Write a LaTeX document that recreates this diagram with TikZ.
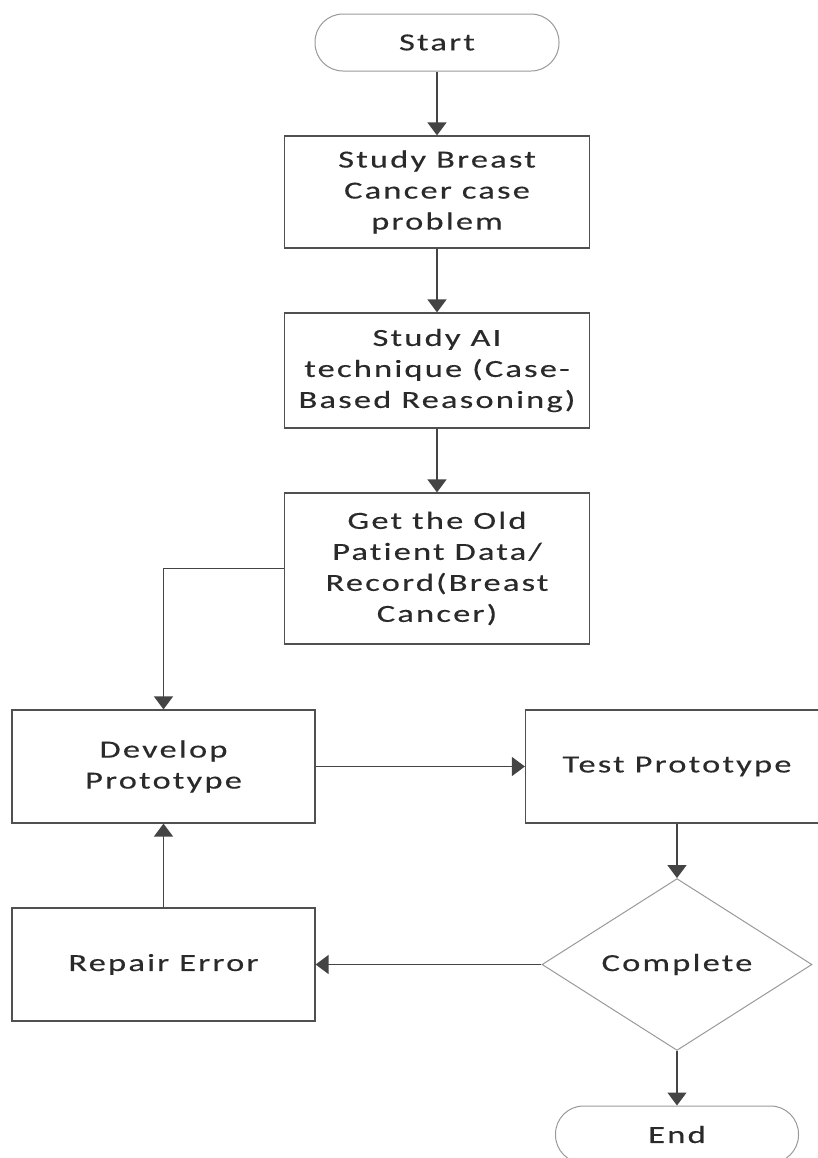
\documentclass[tikz,border=0pt]{standalone}
\usepackage{fontspec}
\setmainfont{Carlito}[FakeStretch=1.4,LetterSpace=9,FakeBold=0.3,Ligatures=NoCommon]
\usetikzlibrary{shapes.geometric,arrows.meta}
\definecolor{linegray}{HTML}{444444}
\definecolor{boxgray}{HTML}{505050}
\definecolor{softgray}{HTML}{999999}
\definecolor{textgray}{HTML}{2A2A2A}

\begin{document}
\begin{tikzpicture}[x=0.5pt,y=-0.5pt, >={Triangle[width=9.5pt,length=6.5pt]},
  every node/.style={font=\fontsize{12.3}{15.5}\selectfont, text=textgray, align=center},
  process/.style={rectangle, draw=boxgray, line width=0.6pt, inner sep=2pt, minimum width=151.5pt, minimum height=56.5pt},
  terminal/.style={rectangle, rounded corners=14pt, draw=softgray, line width=0.5pt, minimum width=122pt, minimum height=28.5pt},
  decision/.style={diamond, draw=softgray, line width=0.5pt, inner sep=0pt, minimum width=135pt, minimum height=56.5pt},
  flow/.style={->, draw=linegray, line width=0.65pt}]
\useasboundingbox (0,0) rectangle (818,1158);
\node (start) at (437,42.5) [terminal] {Start};
\node (study) at (437,192) [process, minimum width=152.5pt, minimum height=56pt] {Study Breast\\Cancer case\\problem};
\node (cbr) at (437,370.5) [process, minimum width=152.5pt, minimum height=57.5pt] {Study AI\\technique (Case-\\Based Reasoning)};
\node (data) at (437,568.5) [process, minimum width=152.5pt, minimum height=75.5pt] {Get the Old\\Patient Data/\\Record(Breast\\Cancer)};
\node (develop) at (163.5,766.5) [process] {Develop\\Prototype};
\node (test) at (677,766.5) [process] {Test Prototype};
\node (check) at (677,964.5) [decision] {Complete};
\node (repair) at (163.5,964.5) [process] {Repair Error};
\node (stop) at (677,1134.5) [terminal, minimum width=121.5pt] {End};
\draw[flow] (start) -- (study);
\draw[flow] (study) -- (cbr);
\draw[flow] (cbr) -- (data);
\draw[flow] (data.west) -| (develop.north);
\draw[flow] (develop) -- (test);
\draw[flow] (test) -- (check);
\draw[flow] (check) -- (repair);
\draw[flow] (repair) -- (develop);
\draw[flow] (check) -- (stop);
\end{tikzpicture}
\end{document}
